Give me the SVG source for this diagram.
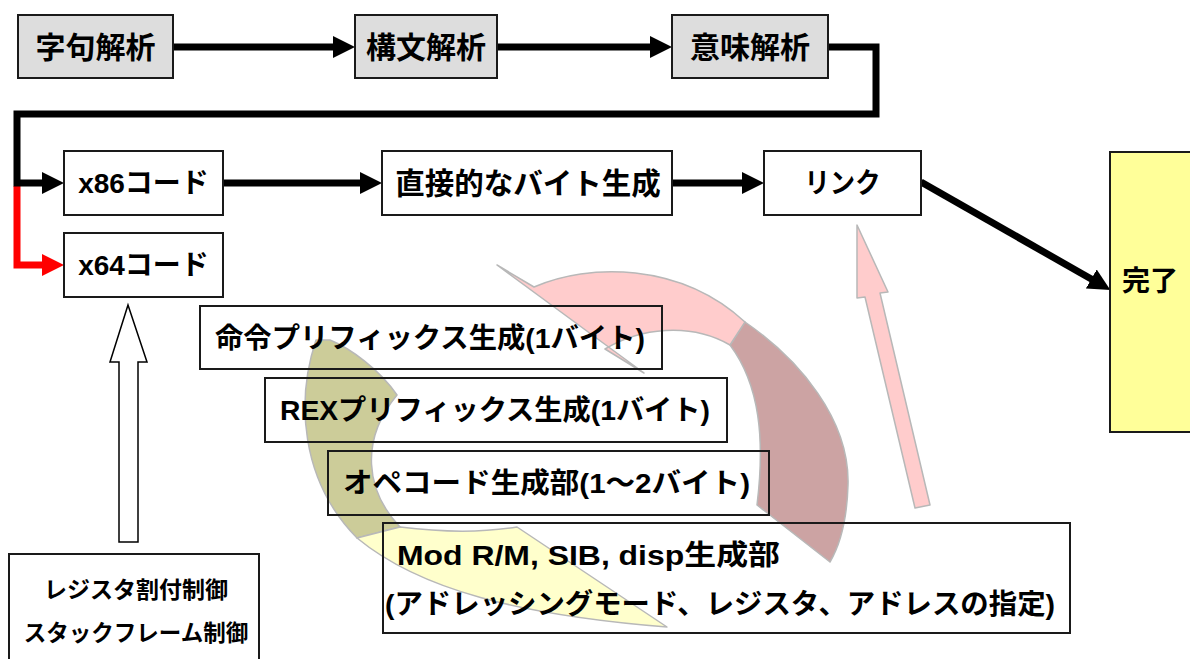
<svg xmlns="http://www.w3.org/2000/svg" width="1190" height="659" viewBox="0 0 1190 659">
<style>
.box{stroke:#1a1a1a;stroke-width:2}
.gray{fill:#dddddd}
.white{fill:#ffffff}
.none{fill:none}
.done{fill:#ffff99}
.t{font-family:'Liberation Sans','Noto Sans CJK JP',sans-serif;font-weight:bold;fill:#000;dominant-baseline:central}
.m{text-anchor:middle}
.conn{fill:none;stroke:#000;stroke-width:7;stroke-linejoin:miter}
.red{stroke:#ff0000}
.deco{stroke:#b8b8b8;stroke-width:1.5;stroke-linejoin:round}
</style>
<defs>
<marker id="ah" viewBox="0 0 22 22" markerWidth="22" markerHeight="22" markerUnits="userSpaceOnUse" refX="2" refY="11" orient="auto"><path d="M0,0 L22,11 L0,22 z" fill="#000"/></marker>
<marker id="ahr" viewBox="0 0 22 22" markerWidth="22" markerHeight="22" markerUnits="userSpaceOnUse" refX="2" refY="11" orient="auto"><path d="M0,0 L22,11 L0,22 z" fill="#ff0000"/></marker>
</defs>
<rect width="1190" height="659" fill="#ffffff"/>

<g id="cycle-arrows">
<path class="deco" fill="#cca3a3" d="M745,322 C800,360 850,420 848,485 C847,520 840,545 830,562 L757,505 C765,440 760,385 730,345 Z"/>
<path class="deco" fill="#ffcccc" d="M497,265 L534,287 C588,263 680,262 745,322 L730,345 C690,322 640,328 605,349 L644,373 Z"/>
<path class="deco" fill="#cccc99" d="M316,340 C296,400 300,480 357,538 L400,527 C365,490 360,440 397,395 C380,370 350,348 330,340 Z"/>
<path class="deco" fill="#ffffcc" d="M357,538 C420,590 520,615 667,627 L517,527 C480,533 440,532 400,527 Z"/>
</g>

<g id="connectors">
<path class="conn red" d="M17,186 V265 H44" marker-end="url(#ahr)"/>
<path class="conn" d="M173,47 H335" marker-end="url(#ah)"/>
<path class="conn" d="M497,47 H652" marker-end="url(#ah)"/>
<path class="conn" d="M828,47 H876 V114 H17 V183 H44" marker-end="url(#ah)"/>
<path class="conn" d="M223,183 H362" marker-end="url(#ah)"/>
<path class="conn" d="M672,183 H744" marker-end="url(#ah)"/>
<path class="conn" d="M921,182 L1093,280" marker-end="url(#ah)"/>
<path fill="#ffffff" stroke="#000" stroke-width="1.5" d="M128,305 L147,362 L138,362 L138,542 L119,542 L119,362 L110,362 Z"/>
<path class="deco" fill="#ffcccc" d="M857,225 L888,292 L880,293 L930,505 L915,508 L865,297 L857,298 Z"/>
</g>

<g id="n-lex"><rect class="box gray" x="18" y="15" width="155" height="63"/><text class="t m" x="95.5" y="47" font-size="30">字句解析</text></g>
<g id="n-syn"><rect class="box gray" x="355" y="15" width="142" height="63"/><text class="t m" x="426" y="47" font-size="30">構文解析</text></g>
<g id="n-sem"><rect class="box gray" x="672" y="15" width="156" height="63"/><text class="t m" x="750" y="47" font-size="30">意味解析</text></g>

<g id="n-x86"><rect class="box white" x="64" y="151" width="159" height="64"/><text class="t m" x="143.5" y="183" font-size="28">x86コード</text></g>
<g id="n-direct"><rect class="box white" x="382" y="151" width="290" height="64"/><text class="t m" x="528" y="183" font-size="29.5">直接的なバイト生成</text></g>
<g id="n-link"><rect class="box white" x="764" y="151" width="157" height="64"/><text class="t m" x="842.5" y="183" font-size="28" textLength="76" lengthAdjust="spacingAndGlyphs">リンク</text></g>
<g id="n-done"><rect class="box done" x="1110" y="152" width="95" height="280"/><text class="t" x="1122" y="281" font-size="28">完了</text></g>
<g id="n-x64"><rect class="box white" x="64" y="233" width="159" height="64"/><text class="t m" x="143.5" y="265" font-size="28">x64コード</text></g>

<g id="n-prefix"><rect class="box none" x="200" y="306" width="462" height="63"/><text class="t" x="215" y="338" font-size="28" textLength="430" lengthAdjust="spacingAndGlyphs">命令プリフィックス生成(1バイト)</text></g>
<g id="n-rex"><rect class="box none" x="265" y="378" width="462" height="64"/><text class="t" x="280" y="410" font-size="28" textLength="430" lengthAdjust="spacingAndGlyphs">REXプリフィックス生成(1バイト)</text></g>
<g id="n-opcode"><rect class="box none" x="328" y="451" width="441" height="64"/><text class="t" x="343" y="483" font-size="28" textLength="407" lengthAdjust="spacingAndGlyphs">オペコード生成部(1～2バイト)</text></g>
<g id="n-modrm"><rect class="box none" x="383" y="523" width="687" height="110"/><text class="t" x="397" y="555" font-size="28" textLength="383" lengthAdjust="spacingAndGlyphs">Mod R/M, SIB, disp生成部</text><text class="t" x="385" y="604" font-size="28" textLength="670" lengthAdjust="spacingAndGlyphs">(アドレッシングモード、レジスタ、アドレスの指定)</text></g>

<g id="n-regalloc"><rect class="box white" x="9" y="554" width="250" height="120"/><text class="t m" x="136" y="590" font-size="23">レジスタ割付制御</text><text class="t m" x="136" y="633" font-size="22.5">スタックフレーム制御</text></g>
</svg>
